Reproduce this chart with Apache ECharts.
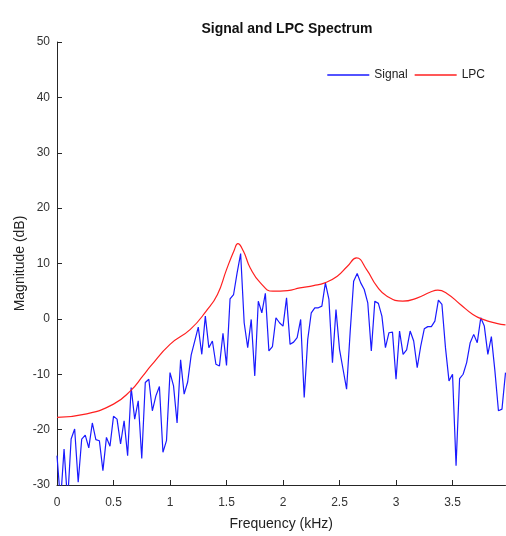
<!DOCTYPE html>
<html>
<head>
<meta charset="utf-8">
<script src="https://cdn.jsdelivr.net/npm/echarts@6/dist/echarts.min.js"></script>
<style>
  html, body { margin: 0; padding: 0; background: #fff; }
  #chart { width: 506px; height: 536px; }
</style>
</head>
<body>
<div id="chart"></div>
<script>
// FFT bin spacing: 128 bins over 0..4 kHz
const binStep = 0.03125;

// signal magnitude (dB), one value per bin
const signalDb = [
  -24.7, -33, -23.5, -33, -21.7, -19.9, -29.5, -21.7, -21, -23.3,
  -18.8, -21.8, -22, -27.4, -21.4, -23, -17.6, -18.1, -22.6, -18.4,
  -24.7, -12.4, -18.1, -14.8, -25.2, -11.5, -10.9, -16.6, -13.9, -12.2,
  -24.1, -22, -9.7, -12.1, -18.8, -7.4, -13.6, -11.4, -6.5, -4,
  -1.5, -6.4, 0.5, -5.2, -4, -8.2, -8.5, -2.6, -8.4, 3.6,
  4.4, 8.3, 11.8, -0.7, -5.2, -0.1, -10.3, 3.2, 1.1, 4.6,
  -5.8, -5, 0.2, -0.7, -1.3, 3.8, -4.6, -4.2, -3.4, -0.1,
  -14.2, -3.7, 1.1, 2, 2.0, 2.3, 6.5, 3.5, -7.9, 1.7,
  -5.5, -9.1, -12.7, -2.5, 6.8, 8.2, 6.5, 5.3, 2.9, -5.8,
  3.2, 2.8, 0.5, -5.2, -2.5, -2.4, -10.9, -2.2, -6.4, -5.6,
  -2.2, -4, -8.8, -4.9, -1.8, -1.4, -1.4, -0.4, 3.4, 2.6,
  -5.2, -11.2, -10, -26.5, -10.8, -10, -7.9, -4.3, -2.8, -4.3,
  0.2, -1.3, -6.4, -3.2, -9.4, -16.6, -16.3, -9.7
];

// LPC envelope, read at these frequencies (kHz)
const lpcFreq = [
  0, 0.25, 0.5, 0.65, 0.76, 0.83, 1.0, 1.18, 1.32,
  1.42, 1.5, 1.57, 1.6, 1.65, 1.71, 1.8, 1.91, 2.04, 2.15,
  2.27, 2.37, 2.48, 2.57, 2.65, 2.74, 2.83, 2.92, 3.06, 3.19,
  3.3, 3.37, 3.45, 3.57, 3.68, 3.77, 3.89, 3.96875
];
const lpcDb = [
  -17.8, -17.2, -15.4, -13.0, -10.3, -8.5, -4.6, -1.9, 1.4,
  4.4, 8.9, 12.5, 13.6, 12.2, 9.2, 6.5, 5.0, 5.1, 5.6,
  6.0, 6.5, 7.7, 9.5, 11.0, 8.9, 5.9, 4.1, 3.2, 3.8,
  4.8, 5.2, 4.6, 2.6, 0.8, -0.1, -0.8, -1.1
];

const xTicks = [0, 0.5, 1, 1.5, 2, 2.5, 3, 3.5];
const yMin = -30, yMax = 50, yStep = 10;

const font = "'Liberation Sans', Arial, sans-serif";
const axisColor = "#262626";

const signalData = signalDb.map((v, i) => [i * binStep, v]);
const lpcData = lpcFreq.map((f, i) => [f, lpcDb[i]]);

const chart = echarts.init(document.getElementById("chart"));
chart.setOption({
  animation: false,
  textStyle: { fontFamily: font },
  title: {
    text: "Signal and LPC Spectrum",
    left: 282,
    textAlign: "center",
    top: 17,
    textStyle: { fontSize: 14, fontWeight: "bold", color: "#111", fontFamily: font },
  },
  legend: {
    right: 16,
    top: 64,
    icon: "rect",
    itemWidth: 42,
    itemHeight: 1.3,
    itemGap: 7,
    textStyle: { fontSize: 12, color: "#222", fontFamily: font },
    data: ["Signal", "LPC"],
  },
  grid: { left: 57, right: 0.5, top: 42, bottom: 50, containLabel: false },
  xAxis: {
    type: "value",
    min: 0,
    max: signalData[signalData.length - 1][0],
    interval: 0.5,
    name: "Frequency (kHz)",
    nameLocation: "middle",
    nameGap: 32,
    nameMoveOverlap: false,
    nameTextStyle: { fontSize: 14, color: "#222", fontFamily: font },
    axisLine: { onZero: false, lineStyle: { color: axisColor, width: 1 } },
    axisTick: { inside: true, length: 5, customValues: xTicks, lineStyle: { color: axisColor } },
    splitLine: { show: false },
    axisLabel: {
      margin: 12,
      fontSize: 12,
      color: "#333",
      customValues: xTicks,
    },
  },
  yAxis: {
    type: "value",
    min: yMin,
    max: yMax,
    interval: yStep,
    name: "Magnitude (dB)",
    nameLocation: "middle",
    nameGap: 30,
    nameMoveOverlap: false,
    nameTextStyle: { fontSize: 14, color: "#222", fontFamily: font },
    axisLine: { show: true, onZero: false, lineStyle: { color: axisColor, width: 1 } },
    axisTick: { show: true, inside: true, length: 5, lineStyle: { color: axisColor } },
    splitLine: { show: false },
    axisLabel: { margin: 7, fontSize: 12, color: "#333" },
  },
  series: [
    {
      name: "Signal",
      type: "line",
      data: signalData,
      symbol: "none",
      clip: true,
      lineStyle: { color: "#1a1aff", width: 1.2 },
      itemStyle: { color: "#1a1aff" },
    },
    {
      name: "LPC",
      type: "line",
      data: lpcData,
      symbol: "none",
      smooth: 0.5,
      clip: true,
      lineStyle: { color: "#ff2020", width: 1.2 },
      itemStyle: { color: "#ff2020" },
    },
  ],
});
</script>
</body>
</html>
